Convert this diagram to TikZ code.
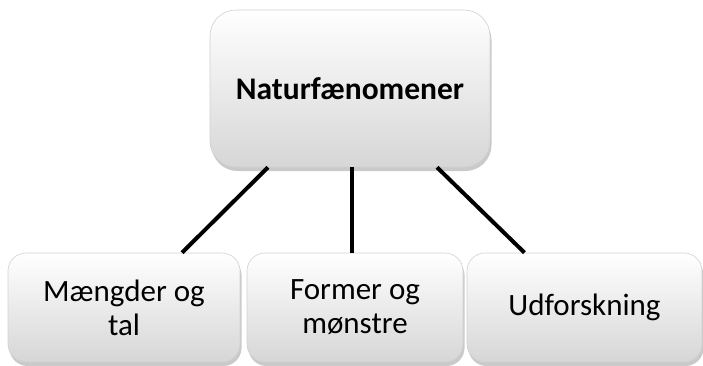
\documentclass[tikz,border=0pt]{standalone}
\usepackage{fontspec}
\setmainfont{Carlito}
\usetikzlibrary{shadows,calc}
\begin{document}
\begin{tikzpicture}[x=1pt,y=-1pt,
    box/.style={draw=black!18,line width=0.6pt,rounded corners=18pt,
      top color=white,bottom color=black!16,align=center,
      font=\fontsize{31}{34}\selectfont,
      drop shadow={shadow xshift=1.5pt,shadow yshift=-4pt,opacity=0.35,fill=black!60}},
    link/.style={line width=4pt}]
  \useasboundingbox (0,0) rectangle (703,365);

  \node[box,rounded corners=26pt,minimum width=280pt,minimum height=157pt,
    font=\fontsize{31.5}{36}\selectfont\bfseries] (nat) at (350,88.5) {Naturfænomener};

  \node[box,minimum width=232pt,minimum height=109pt] (tal) at (124,307.5) {Mængder og\\tal};
  \node[box,minimum width=216pt,minimum height=109pt] (form) at (355,307.5) {Former og\\mønstre};
  \node[box,minimum width=235pt,minimum height=109pt] (udf) at (584.5,307.5) {Udforskning};

  \draw[link] ([xshift=-82pt]nat.south) -- ([xshift=58pt]tal.north);
  \draw[link] ([xshift=2pt]nat.south) -- ([xshift=-3pt]form.north);
  \draw[link] ([xshift=87pt]nat.south) -- ([xshift=-60pt]udf.north);
\end{tikzpicture}
\end{document}
